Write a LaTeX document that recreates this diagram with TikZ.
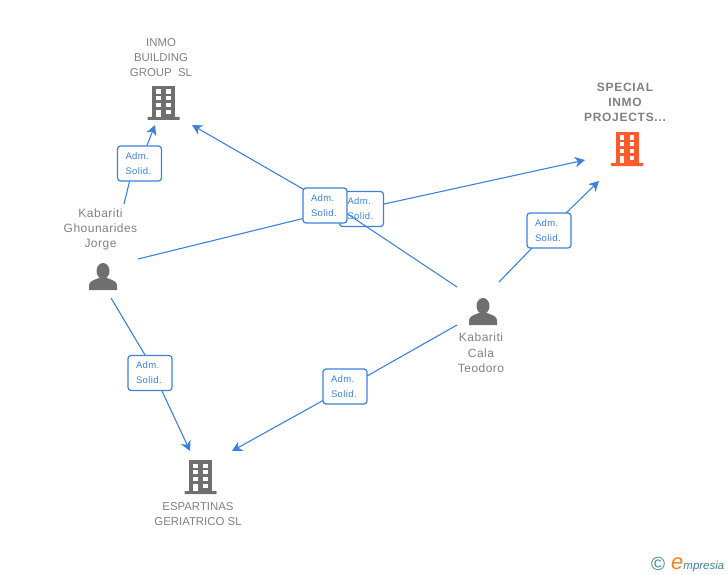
\documentclass[tikz,border=0pt]{standalone}
\usepackage{fontspec}
\setmainfont{Liberation Sans}
\newfontfamily\spacedfont[LetterSpace=4]{Liberation Sans}
\newfontfamily\spacedbold[LetterSpace=6,BoldFont={Liberation Sans Bold}]{Liberation Sans}
\usetikzlibrary{arrows.meta}
\definecolor{linkblue}{HTML}{3C80DC}
\definecolor{labelgray}{HTML}{808080}
\definecolor{icongray}{HTML}{6F6F6F}
\definecolor{iconorange}{HTML}{FF5C2E}
\definecolor{logoteal}{HTML}{3F7F96}
\definecolor{logoorange}{HTML}{F08020}
\tikzset{
  link/.style={draw=linkblue,line width=1.1pt},
  linkarrow/.style={link,-{Stealth[length=10pt,width=10.5pt,inset=3pt]}},
  rolebox/.style={draw=linkblue,line width=1.2pt,fill=white,rounded corners=3pt,minimum width=44pt,minimum height=35pt,inner sep=0pt,text width=28pt,align=left,text=linkblue,font=\fontsize{9.5}{15}\spacedfont\selectfont},
  nametext/.style={text=labelgray,align=center,inner sep=0pt,font=\fontsize{11.4}{15}\selectfont},
  persontext/.style={nametext,font=\fontsize{12}{15.3}\spacedfont\selectfont},
  specialtext/.style={nametext,font=\fontsize{12}{15}\spacedbold\bfseries\selectfont},
  pics/building/.style={code={
    \fill[#1] (-11.5,0) rectangle (11.5,31);
    \fill[#1,rounded corners=0.5pt] (-16,31) rectangle (16,34);
    \foreach \yy in {3.5,10.2,16.9}{
      \fill[white] (-7.2,\yy) rectangle (-2.6,\yy+4.2);
      \fill[white] (2.6,\yy) rectangle (7.2,\yy+4.2);
    }
    \fill[white] (-7.2,23.6) rectangle (-2.6,31);
    \fill[white] (2.6,23.6) rectangle (7.2,27.8);
  }},
  pics/person/.style={code={
    \fill[icongray] (0,-11) ellipse (6.5 and 8);
    \fill[icongray] (-14,8) -- (-14,3) .. controls (-13.5,-1) and (-9,-2) .. (-4,-4) -- (4,-4)
       .. controls (9,-2) and (13.5,-1) .. (14,3) -- (14,8) -- cycle;
  }}
}
\begin{document}
\begin{tikzpicture}[x=1pt,y=-1pt]
\useasboundingbox (0,0) rectangle (728,575);

% icons
\pic at (163.5,86) {building=icongray};
\pic at (627,132) {building=iconorange};
\pic at (200.5,460) {building=icongray};
\pic at (103,282) {person};
\pic at (483,317) {person};

% texts
\node[nametext] (inmo) at (161,58) {INMO\\BUILDING\\GROUP\ \ SL};
\node[specialtext] (special) at (625,102.5) {SPECIAL\\INMO\\PROJECTS...};
\node[nametext] (espartinas) at (198,514) {ESPARTINAS\\GERIATRICO SL};
\node[persontext] (jorge) at (100.5,229.5) {Kabariti\\Ghounarides\\Jorge};
\node[persontext] (teodoro) at (481,353) {Kabariti\\Cala\\Teodoro};

% free ends of the connectors
\coordinate (jorgeUp) at (124,204);
\coordinate (jorgeRight) at (138,259);
\coordinate (jorgeDown) at (111,298);
\coordinate (teoUp) at (457,287);
\coordinate (teoLeft) at (457,325);
\coordinate (teoRight) at (499,282);
\coordinate (inmoA) at (155,125);
\coordinate (inmoB) at (192,125);
\coordinate (specialA) at (585,160);
\coordinate (specialB) at (599,181);
\coordinate (espA) at (190,451);
\coordinate (espB) at (232,451);

% lower role box (covered by the next one)
\node[rolebox] (roleB) at (361.5,209) {Adm.\\Solid.};

% role boxes on the other connectors
\node[rolebox] (roleJI) at (139.5,163.5) {Adm.\\Solid.};
\node[rolebox] (roleTS) at (549,230.5) {Adm.\\Solid.};
\node[rolebox] (roleJE) at (150,373) {Adm.\\Solid.};
\node[rolebox] (roleTE) at (345,386.5) {Adm.\\Solid.};

% connectors
\draw[link] (jorgeUp) -- (roleJI.south -| 129.5,0);
\draw[linkarrow] (roleJI.north -| 147,0) -- (inmoA);
\draw[link] (jorgeRight) -- (303,218.5);
\draw[linkarrow] (roleB.east |- 0,204) -- (specialA);
\draw[link] (teoRight) -- (532,248);
\draw[linkarrow] (566,213) -- (specialB);
\draw[link] (jorgeDown) -- (145,355);
\draw[linkarrow] (162,391) -- (espA);
\draw[link] (teoLeft) -- (367,376);
\draw[linkarrow] (323,400.5) -- (espB);
\draw[link] (teoUp) -- (346,213);
\draw[linkarrow] (303,189) -- (inmoB);

% upper role box
\node[rolebox] (roleA) at (325,205.5) {Adm.\\Solid.};

% logo
\node[text=logoteal,inner sep=0pt] (logoC) at (658,564) {\fontsize{19}{19}\selectfont\textcopyright};
\node[anchor=base west,inner sep=0pt,text=logoteal] (logoT) at (671,569) {\itshape{\color{logoorange}\fontsize{22}{22}\selectfont e}\fontsize{11.5}{13}\selectfont mpresia};
\end{tikzpicture}
\end{document}
